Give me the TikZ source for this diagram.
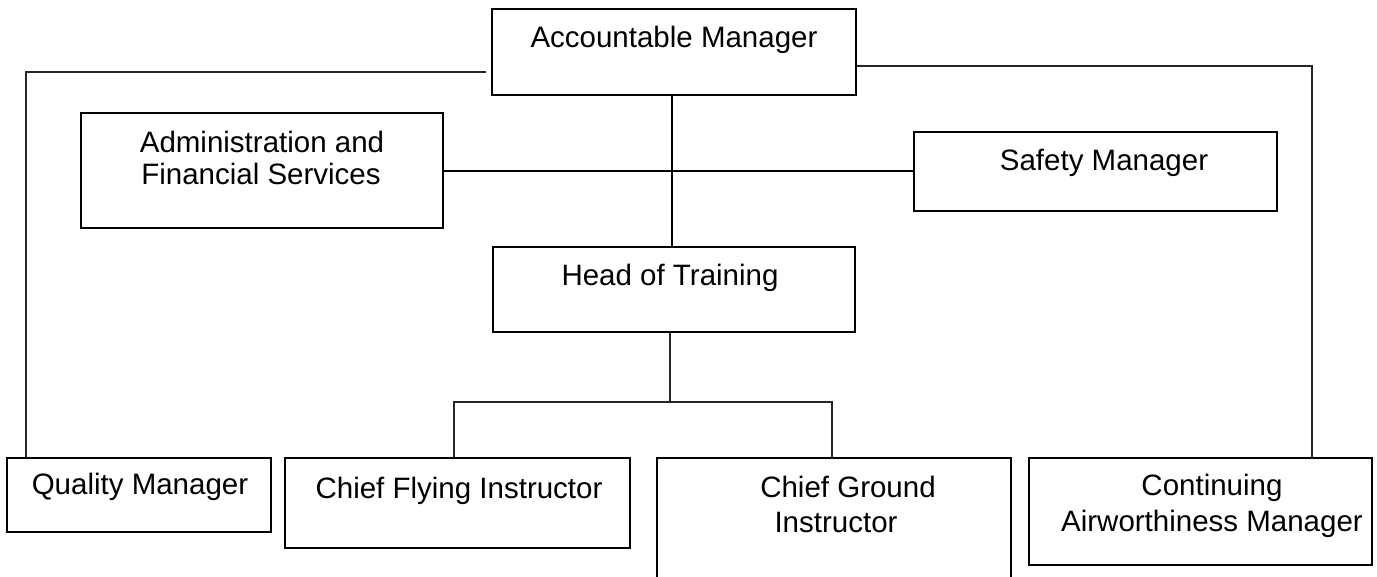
\documentclass[tikz,border=0pt]{standalone}
\usepackage{fontspec}
\setmainfont{Liberation Sans}
\begin{document}
\begin{tikzpicture}[x=1pt,y=-1pt,
  box/.style={draw=black,line width=2pt,rectangle,inner sep=0pt,anchor=north west},
  lbl/.style={inner sep=0pt,anchor=base,font=\fontsize{29.5}{34}\selectfont},
  thick line/.style={draw=black,line width=2pt},
  thin line/.style={draw=black!85,line width=1.4pt}]
\useasboundingbox (0,0) rectangle (1377,576);
\clip (0,0) rectangle (1377,576);
% boxes
\node[box,minimum width=364pt,minimum height=86pt] (am) at (491,8) {};
\node[box,minimum width=362pt,minimum height=115pt] (afs) at (80,112) {};
\node[box,minimum width=363pt,minimum height=79pt] (sm) at (913,131) {};
\node[box,minimum width=362pt,minimum height=85pt] (hot) at (492,246) {};
\node[box,minimum width=264pt,minimum height=74pt] (qm) at (6,457) {};
\node[box,minimum width=345pt,minimum height=90pt] (cfi) at (284,457) {};
\node[box,minimum width=354pt,minimum height=140pt] (cgi) at (656,457) {};
\node[box,minimum width=343pt,minimum height=107pt] (cam) at (1028,457) {};
% labels
\node[lbl] (tam) at (674,47) {Accountable Manager};
\node[lbl] (tafs1) at (262,152) {Administration and};
\node[lbl] (tafs2) at (261,184) {Financial Services};
\node[lbl] (tsm) at (1104,170) {Safety Manager};
\node[lbl] (thot) at (670,285) {Head of Training};
\node[lbl] (tqm) at (140,494) {Quality Manager};
\node[lbl] (tcfi) at (459,498) {Chief Flying Instructor};
\node[lbl] (tcgi1) at (848,497) {Chief Ground};
\node[lbl] (tcgi2) at (836,532) {Instructor};
\node[lbl] (tcam1) at (1212,495) {Continuing};
\node[lbl] (tcam2) at (1212,531) {Airworthiness Manager};
% connector points
\coordinate (lt) at (26,72);
\coordinate (le) at (486,72);
\coordinate (rt) at (1312,66);
\coordinate (hb) at (670,402);
\coordinate (hl) at (454,402);
\coordinate (hr) at (832,402);
% connectors
\draw[thin line] (le) -- (lt) -- (lt |- qm.north);
\draw[thin line] (am.east |- rt) -- (rt) -- (rt |- cam.north);
\draw[thick line] (672,94) -- (672,246);
\draw[thick line] (afs.east |- 0,171) -- (sm.west |- 0,171);
\draw[thin line] (hot.south -| hb) -- (hb);
\draw[thin line] (hl |- cfi.north) -- (hl) -- (hr) -- (hr |- cgi.north);
\end{tikzpicture}
\end{document}
